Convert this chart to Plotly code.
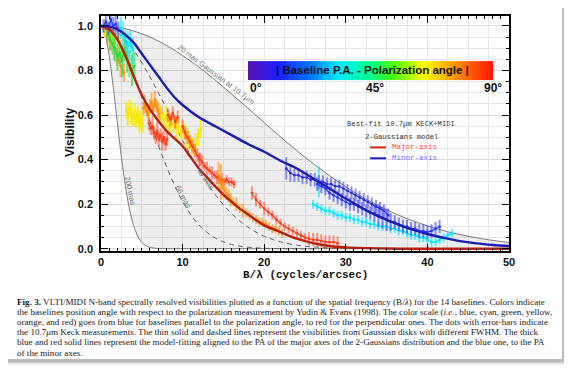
import plotly.graph_objects as go

# ---------------- data ----------------
# thin Gaussian-disc model curves (FWHM 20, 45, 66, 200 mas)
g20_x = [0, 2.5, 5, 7.5, 10, 12.5, 15, 17.5, 20, 22.5, 25, 27.5, 30, 32.5, 35, 37.5, 40, 42.5, 45, 47.5, 50]
g20_v = [1.0, 0.991, 0.965, 0.923, 0.867, 0.801, 0.726, 0.647, 0.566, 0.486, 0.411, 0.341, 0.278, 0.222,
         0.175, 0.135, 0.103, 0.076, 0.056, 0.040, 0.028]
g200_x = [0, 0.5, 1, 1.5, 2, 2.5, 3, 3.5, 4, 4.5, 5, 5.5, 6, 7, 8, 10, 20, 30, 40, 50]
g200_v = [1.0, 0.965, 0.867, 0.726, 0.566, 0.411, 0.278, 0.175, 0.103, 0.056, 0.028, 0.013, 0.006, 0.001,
          0.0, 0.0, 0.0, 0.0, 0.0, 0.0]
g66_x = [0, 2, 4, 6, 8, 10, 12, 14, 16, 18, 20, 22, 24, 26]
g66_v = [1.0, 0.940, 0.780, 0.572, 0.371, 0.212, 0.107, 0.048, 0.019, 0.007, 0.002, 0.0006, 0.0001, 0.0]
g45_x = [0, 2, 4, 6, 8, 10, 12, 14, 16, 18, 20, 22, 24, 26, 28, 30]
g45_v = [1.0, 0.972, 0.891, 0.771, 0.631, 0.486, 0.354, 0.243, 0.158, 0.097, 0.056, 0.031, 0.016, 0.008,
         0.0035, 0.0015]

# thick best-fit 2-Gaussian model curves
major_x = [0, 1, 2, 3, 4, 5, 6, 7, 8, 9, 10, 11, 12, 13, 14, 15, 16, 17, 18, 19, 20, 22, 24, 26, 28, 30,
           35, 40, 45, 50]
major_v = [1.0, 0.985, 0.94, 0.865, 0.775, 0.69, 0.625, 0.575, 0.53, 0.495, 0.46, 0.41, 0.36, 0.32, 0.28,
           0.243, 0.21, 0.18, 0.155, 0.128, 0.105, 0.075, 0.045, 0.025, 0.012, 0.006, 0.001, 0.0, 0.0, 0.0]
minor_x = [0, 1, 2, 3, 4, 5, 6, 7, 8, 9, 10, 12, 14, 16, 18, 20, 22, 24, 26, 28, 30, 32, 34, 36, 38, 40,
           42, 44, 46, 48, 50]
minor_v = [1.0, 0.997, 0.985, 0.96, 0.925, 0.875, 0.825, 0.775, 0.725, 0.68, 0.645, 0.59, 0.55, 0.51, 0.47,
           0.435, 0.395, 0.36, 0.315, 0.27, 0.225, 0.183, 0.145, 0.115, 0.088, 0.066, 0.049, 0.034, 0.024,
           0.017, 0.012]

# measured visibilities (x: B/lambda, v: visibility, e: error)
blue0_x = [0.3, 0.6, 0.9, 1.2, 1.5, 1.8, 2.1]
blue0_v = [1.0, 1.02, 0.99, 1.03, 1.0, 1.01, 0.98]
blue0_e = [0.03, 0.04, 0.03, 0.05, 0.04, 0.05, 0.04]
green0_x = [0.8, 1.1, 1.4, 1.7, 2.0, 2.3, 2.6, 2.9, 3.2, 3.5, 3.8, 4.1]
green0_v = [0.97, 0.94, 0.92, 0.9, 0.86, 0.88, 0.84, 0.9, 0.86, 0.83, 0.8, 0.82]
green0_e = [0.04, 0.05, 0.05, 0.06, 0.06, 0.05, 0.07, 0.06, 0.07, 0.06, 0.07, 0.06]
cyan0_x = [2.4, 2.7, 3.0, 3.3, 3.6, 3.9]
cyan0_v = [0.99, 0.96, 0.93, 0.91, 0.93, 0.89]
cyan0_e = [0.05, 0.06, 0.05, 0.06, 0.05, 0.06]
yellow0_x = [0.5, 0.9, 1.3, 1.7, 2.1, 2.5]
yellow0_v = [0.99, 0.97, 0.96, 0.93, 0.95, 0.91]
yellow0_e = [0.04, 0.03, 0.05, 0.04, 0.05, 0.04]
orange0_x = [0.4, 0.8, 1.2, 1.6, 2.0, 2.4, 2.8]
orange0_v = [0.98, 0.95, 0.93, 0.9, 0.86, 0.82, 0.79]
orange0_e = [0.03, 0.04, 0.04, 0.05, 0.04, 0.05, 0.04]
yellowA_x = [3.1, 3.3, 3.5, 3.7, 3.9, 4.1, 4.3, 4.5, 4.7, 4.9, 5.1]
yellowA_v = [0.62, 0.6, 0.63, 0.61, 0.59, 0.6, 0.58, 0.6, 0.57, 0.58, 0.56]
yellowA_e = [0.04, 0.05, 0.04, 0.05, 0.04, 0.05, 0.04, 0.04, 0.05, 0.04, 0.04]
orangeB_x = [5.2, 5.4, 5.6, 5.8, 6.0, 6.2, 6.4, 6.6, 6.8, 7.0, 7.2, 7.4]
orangeB_v = [0.63, 0.65, 0.62, 0.6, 0.64, 0.66, 0.62, 0.67, 0.64, 0.62, 0.6, 0.61]
orangeB_e = [0.03, 0.04, 0.03, 0.04, 0.03, 0.04, 0.03, 0.04, 0.03, 0.04, 0.03, 0.03]
redC_x = [5.9, 6.1, 6.3, 6.5, 6.7, 6.9, 7.1, 7.3, 7.5, 7.7, 7.9, 8.1]
redC_v = [0.56, 0.54, 0.55, 0.52, 0.5, 0.53, 0.49, 0.51, 0.48, 0.5, 0.47, 0.49]
redC_e = [0.03, 0.03, 0.04, 0.03, 0.03, 0.04, 0.03, 0.03, 0.04, 0.03, 0.03, 0.03]
yellowD_x = [7.4, 7.7, 8.0, 8.3, 8.6, 8.9, 9.2, 9.5, 9.8, 10.1, 10.4, 10.7, 11.0, 11.3, 11.6, 11.9, 12.2]
yellowD_v = [0.6, 0.58, 0.59, 0.57, 0.55, 0.56, 0.54, 0.55, 0.52, 0.53, 0.5, 0.49, 0.47, 0.46, 0.47, 0.5, 0.54]
yellowD_e = [0.04, 0.03, 0.05, 0.04, 0.03, 0.04, 0.05, 0.04, 0.03, 0.04, 0.05, 0.04, 0.03, 0.04, 0.05, 0.04, 0.04]
redD_x = [8.2, 8.5, 8.8, 9.1, 9.4]
redD_v = [0.6, 0.58, 0.61, 0.57, 0.59]
redD_e = [0.03, 0.03, 0.03, 0.03, 0.03]
redE_x = [10.0, 10.3, 10.6, 10.9, 11.2, 11.5, 11.8, 12.1]
redE_v = [0.55, 0.52, 0.5, 0.48, 0.46, 0.44, 0.42, 0.4]
redE_e = [0.03, 0.03, 0.03, 0.03, 0.03, 0.03, 0.03, 0.03]
redF_x = [12.1, 12.4, 12.7, 13.0, 13.3, 13.6, 13.9, 14.2, 14.5, 14.8, 15.1, 15.4, 15.7, 16.0, 16.3]
redF_v = [0.4, 0.39, 0.37, 0.36, 0.35, 0.34, 0.33, 0.32, 0.31, 0.31, 0.3, 0.31, 0.3, 0.3, 0.29]
redF_e = [0.03, 0.03, 0.02, 0.03, 0.02, 0.03, 0.02, 0.03, 0.02, 0.03, 0.02, 0.02, 0.02, 0.02, 0.02]
orangeG_x = [14.4, 14.7, 15.0, 15.3, 15.6, 15.9, 16.2, 16.6, 17.0, 17.4, 17.8, 18.2, 18.6, 19.0, 19.4,
             19.8, 20.2, 20.6, 21.0, 21.4, 21.8, 22.2]
orangeG_v = [0.33, 0.3, 0.27, 0.25, 0.24, 0.22, 0.21, 0.2, 0.18, 0.17, 0.16, 0.15, 0.14, 0.13, 0.12, 0.12,
             0.11, 0.1, 0.09, 0.09, 0.08, 0.07]
orangeG_e = [0.06, 0.08, 0.04, 0.03, 0.03, 0.03, 0.02, 0.03, 0.02, 0.03, 0.02, 0.02, 0.02, 0.02, 0.02, 0.02,
             0.02, 0.02, 0.02, 0.02, 0.02, 0.02]
redH_x = [18.5, 19, 19.5, 20, 20.5, 21, 21.5, 22, 22.5, 23, 23.5, 24, 24.5, 25, 25.5, 26, 26.5, 27, 27.5,
          28, 28.5, 29]
redH_v = [0.25, 0.22, 0.2, 0.18, 0.165, 0.15, 0.13, 0.115, 0.1, 0.09, 0.08, 0.07, 0.06, 0.05, 0.045, 0.04,
          0.04, 0.035, 0.03, 0.03, 0.03, 0.025]
redH_e = [0.03, 0.03, 0.02, 0.03, 0.02, 0.02, 0.02, 0.02, 0.02, 0.02, 0.02, 0.02, 0.02, 0.02, 0.03, 0.03,
          0.03, 0.03, 0.03, 0.03, 0.03, 0.03]
blueI_x = [22.7, 23.2, 23.7, 24.2, 24.7, 25.2, 25.7, 26.2, 26.7, 27.2, 27.7, 28.2, 28.7, 29.2, 29.7, 30.2,
           30.7, 31.2, 31.7, 32.2, 32.7, 33.2, 33.7, 34.2, 34.7, 35.2]
blueI_v = [0.36, 0.34, 0.33, 0.33, 0.32, 0.32, 0.31, 0.31, 0.3, 0.3, 0.29, 0.29, 0.28, 0.28, 0.27, 0.26,
           0.25, 0.24, 0.23, 0.22, 0.21, 0.2, 0.19, 0.18, 0.17, 0.15]
blueI_e = [0.05, 0.04, 0.03, 0.03, 0.03, 0.03, 0.03, 0.03, 0.03, 0.03, 0.03, 0.03, 0.03, 0.03, 0.03, 0.03,
           0.03, 0.03, 0.03, 0.03, 0.03, 0.03, 0.03, 0.03, 0.03, 0.03]
blueJ_x = [26.5, 27, 27.5, 28, 28.5, 29, 29.5, 30, 30.5, 31, 31.5, 32, 32.5, 33, 33.5, 34, 34.5, 35, 35.5,
           36, 36.5, 37, 37.5, 38, 38.5, 39, 39.5, 40, 40.5, 41, 41.5]
blueJ_v = [0.29, 0.28, 0.27, 0.25, 0.24, 0.23, 0.22, 0.21, 0.2, 0.2, 0.19, 0.18, 0.17, 0.16, 0.16, 0.15,
           0.14, 0.13, 0.12, 0.12, 0.11, 0.1, 0.1, 0.09, 0.09, 0.08, 0.08, 0.075, 0.08, 0.09, 0.1]
blueJ_e = [0.03, 0.03, 0.03, 0.03, 0.03, 0.03, 0.03, 0.03, 0.03, 0.03, 0.03, 0.03, 0.03, 0.03, 0.04, 0.05,
           0.05, 0.05, 0.04, 0.03, 0.03, 0.03, 0.03, 0.03, 0.03, 0.03, 0.03, 0.03, 0.03, 0.03, 0.03]
cyanK_x = [26, 26.5, 27, 27.5, 28, 28.5, 29, 29.5, 30, 30.5, 31, 31.5, 32, 32.5, 33, 33.5, 34, 34.5, 35,
           35.5, 36, 36.5, 37, 37.5, 38, 38.5, 39, 39.5, 40, 40.5, 41, 41.5, 42, 42.5, 43]
cyanK_v = [0.2, 0.19, 0.18, 0.17, 0.17, 0.16, 0.15, 0.15, 0.14, 0.14, 0.13, 0.13, 0.12, 0.12, 0.11, 0.11,
           0.1, 0.1, 0.1, 0.09, 0.09, 0.08, 0.08, 0.07, 0.06, 0.06, 0.05, 0.05, 0.04, 0.03, 0.03, 0.04,
           0.05, 0.06, 0.07]
cyanK_e = [0.02] * len(cyanK_x)
cyanS_x = [26.7]
cyanS_v = [0.3]
cyanS_e = [0.07]

# colour bar angles (degrees)
pa_angles = list(range(0, 91))
pa_ticks = ["0°", "45°", "90°"]

# ---------------- geometry ----------------
# the page body adds an 8px margin, so the figure is drawn 8px smaller/shifted
OFF = 8
W, H = 572 - 2 * OFF, 373 - 2 * OFF
# plot-area edges in window pixels
PL, PR, PT, PB = 101, 509, 14, 251
L, R, T, B = PL - OFF, PR - OFF, PT - OFF, PB - OFF


def px(p):  # window pixel x -> paper
    return ((p - OFF) - L) / (R - L)


def py(p):  # window pixel y -> paper
    return (B - (p - OFF)) / (B - T)


fig = go.Figure()

GREY = "#7a7a7a"
# shaded region between 200 mas and 20 mas Gaussians
fig.add_trace(go.Scatter(x=g200_x, y=g200_v, mode="lines", line=dict(color=GREY, width=1, shape="spline",
                         smoothing=0.6), hoverinfo="skip", showlegend=False))
fig.add_trace(go.Scatter(x=g20_x, y=g20_v, mode="lines", line=dict(color=GREY, width=1, shape="spline"),
                         fill="tonexty", fillcolor="rgba(120,120,120,0.13)", hoverinfo="skip",
                         showlegend=False))
fig.add_trace(go.Scatter(x=g66_x, y=g66_v, mode="lines", line=dict(color="#666666", width=1, dash="5px,4px",
                         shape="spline"), showlegend=False))
fig.add_trace(go.Scatter(x=g45_x, y=g45_v, mode="lines", line=dict(color="#666666", width=1, dash="5px,4px",
                         shape="spline"), showlegend=False))

COL = {
    "blue": ("#2636ff", "rgba(50,70,255,0.6)"),
    "navy": ("#2a2ae0", "rgba(60,60,240,0.55)"),
    "cyan": ("#00e4ff", "rgba(0,230,255,0.6)"),
    "green": ("#22d83a", "rgba(40,220,60,0.65)"),
    "yellow": ("#f5e800", "rgba(248,235,0,0.8)"),
    "orange": ("#ff8c00", "rgba(255,140,0,0.6)"),
    "red": ("#ff3a12", "rgba(255,70,40,0.55)"),
}

series = [
    (orangeB_x, orangeB_v, orangeB_e, "orange"),
    (redC_x, redC_v, redC_e, "red"),
    (yellowA_x, yellowA_v, yellowA_e, "yellow"),
    (yellowD_x, yellowD_v, yellowD_e, "yellow"),
    (redD_x, redD_v, redD_e, "red"),
    (redE_x, redE_v, redE_e, "red"),
    (redF_x, redF_v, redF_e, "red"),
    (orangeG_x, orangeG_v, orangeG_e, "orange"),
    (redH_x, redH_v, redH_e, "red"),
    (cyanK_x, cyanK_v, cyanK_e, "cyan"),
    (cyanS_x, cyanS_v, cyanS_e, "cyan"),
    (blueJ_x, blueJ_v, blueJ_e, "blue"),
    (blueI_x, blueI_v, blueI_e, "navy"),
    (orange0_x, orange0_v, orange0_e, "orange"),
    (yellow0_x, yellow0_v, yellow0_e, "yellow"),
    (green0_x, green0_v, green0_e, "green"),
    (cyan0_x, cyan0_v, cyan0_e, "cyan"),
    (blue0_x, blue0_v, blue0_e, "blue"),
]
for xs, vs, es, c in series:
    lc, ec = COL[c]
    fig.add_trace(go.Scatter(
        x=xs, y=vs, mode="lines+markers",
        line=dict(color=lc, width=1.2), marker=dict(color=lc, size=2.5),
        error_y=dict(type="data", array=es, color=ec, thickness=2, width=0),
        showlegend=False))

# thick model curves
fig.add_trace(go.Scatter(x=major_x, y=major_v, mode="lines",
                         line=dict(color="#b8200c", width=2.4, shape="spline"), showlegend=False))
fig.add_trace(go.Scatter(x=minor_x, y=minor_v, mode="lines",
                         line=dict(color="#1c1cb0", width=2.4, shape="spline"), showlegend=False))

# dummy trace for the finer vertical grid axis
fig.add_trace(go.Scatter(x=[0, 50], y=[-5, -5], xaxis="x3", mode="lines", line=dict(width=0),
                         hoverinfo="skip", showlegend=False))

# colour bar (heat-map strip)
rainbow = [[0.0, "#5212b4"], [0.12, "#1e1eff"], [0.25, "#0074ff"], [0.37, "#00eeff"],
           [0.5, "#00ff8c"], [0.6, "#50ff00"], [0.72, "#ffff00"], [0.85, "#ff9000"], [1.0, "#ff1800"]]
fig.add_trace(go.Heatmap(z=[pa_angles], x=pa_angles, y=[0], colorscale=rainbow, showscale=False,
                         xaxis="x2", yaxis="y2", hoverinfo="skip"))

TICKFONT = dict(family="Liberation Sans", size=11, color="#111111", weight="bold")
fig.update_layout(
    width=W, height=H,
    margin=dict(l=L, r=W - R, t=T, b=H - B, pad=0),
    paper_bgcolor="white", plot_bgcolor="white",
    xaxis=dict(range=[0, 50], dtick=10, tick0=0, showgrid=True, gridcolor="#dcdcdc", gridwidth=1,
               zeroline=False, showline=True, linecolor="black", linewidth=1.5, mirror="ticks",
               ticks="inside", ticklen=7, tickwidth=1.3, tickcolor="black", tickfont=TICKFONT,
               minor=dict(dtick=1, ticks="inside", ticklen=3.5, tickcolor="black", showgrid=False)),
    yaxis=dict(range=[-0.0102, 1.0445], dtick=0.2, tick0=0, tickformat=".1f", showgrid=True,
               gridcolor="#dcdcdc", zeroline=False, showline=True, linecolor="black", linewidth=1.5,
               mirror="ticks", ticks="inside", ticklen=7, tickwidth=1.3, tickcolor="black",
               tickfont=TICKFONT, ticklabelstandoff=4,
               minor=dict(dtick=0.05, ticks="inside", ticklen=3.5, tickcolor="black", showgrid=True,
                          gridcolor="#e6e6e6")),
    xaxis3=dict(overlaying="x", range=[0, 50], dtick=2.5, tick0=0, showgrid=True, gridcolor="#e6e6e6",
                showticklabels=False, ticks="", showline=False, zeroline=False),
    xaxis2=dict(domain=[px(248), px(493)], range=[-0.5, 90.5], visible=False, anchor="y2"),
    yaxis2=dict(domain=[py(79), py(59.5)], range=[-0.5, 0.5], visible=False, anchor="x2"),
)

# page with drop shadow
shapes = []
for off, a in [(6, 0.05), (5, 0.06), (4, 0.08), (3, 0.1)]:
    shapes.append(dict(type="rect", xref="paper", yref="paper", layer="below",
                       x0=px(0 + off), x1=px(562 + off), y0=py(360 + off), y1=py(-10),
                       fillcolor=f"rgba(0,0,0,{a})", line=dict(width=0)))
shapes.append(dict(type="rect", xref="paper", yref="paper", layer="below",
                   x0=px(-5), x1=px(562), y0=py(360), y1=py(-10), fillcolor="white", line=dict(width=0)))
# legend line samples
shapes.append(dict(type="line", xref="paper", yref="paper", x0=px(370), x1=px(386), y0=py(146.5),
                   y1=py(146.5), line=dict(color="#d42a12", width=2)))
shapes.append(dict(type="line", xref="paper", yref="paper", x0=px(370), x1=px(386), y0=py(157.5),
                   y1=py(157.5), line=dict(color="#2222c0", width=2)))
fig.update_layout(shapes=shapes)

ann = []


def add_text(text, x, y, size, color="#111111", family="Liberation Sans", xanchor="center",
             yanchor="middle", angle=0, weight="normal"):
    ann.append(dict(text=text, x=px(x), y=py(y), xref="paper", yref="paper", showarrow=False,
                    xanchor=xanchor, yanchor=yanchor, textangle=angle,
                    font=dict(family=family, size=size, color=color, weight=weight)))


add_text("Visibility", 70, 132, 12, angle=-90, weight="bold")
add_text("B/λ (cycles/arcsec)", 305, 275, 11, family="Liberation Mono", weight="bold")
add_text("| Baseline P.A. - Polarization angle |", 372, 68.5, 11.5, color="#101010", weight="bold")
add_text(pa_ticks[0], 248, 87, 12, xanchor="left", weight="bold")
add_text(pa_ticks[1], 375, 87, 12, weight="bold")
add_text(pa_ticks[2], 493, 87, 12, weight="bold")
add_text("Best-fit 10.7μm KECK+MIDI", 401, 123, 7.2, color="#333333", family="Liberation Mono")
add_text("2-Gaussians model", 401, 136, 7.2, color="#333333", family="Liberation Mono")
add_text("Major-axis", 390, 146.5, 7.5, color="#ff4a2a", family="Liberation Mono", xanchor="left")
add_text("Minor-axis", 390, 157.5, 7.5, color="#7a6aff", family="Liberation Mono", xanchor="left")
add_text("20 mas Gaussian at 10.7μm", 216, 73, 7.5, color="#777777", angle=37)
add_text("200 mas", 130, 190, 7.5, color="#777777", angle=78)
add_text("66 mas", 183, 196, 7.5, color="#777777", angle=62)
add_text("45 mas", 205, 178, 7.5, color="#777777", angle=55)

caption = [
    "<b>Fig. 3.</b> VLTI/MIDI N-band spectrally resolved visibilities plotted as a function of the spatial "
    "frequency (B/<i>λ</i>) for the 14 baselines. Colors indicate",
    "the baselines position angle with respect to the polarization measurement by Yudin &amp; Evans (1998). "
    "The color scale (<i>i.e.</i>, blue, cyan, green, yellow,",
    "orange, and red) goes from blue for baselines parallel to the polarization angle, to red for the "
    "perpendicular ones. The dots with error-bars indicate",
    "the 10.7<i>μ</i>m Keck measurements. The thin solid and dashed lines represent the visibilities from "
    "Gaussian disks with different FWHM. The thick",
    "blue and red solid lines represent the model-fitting aligned to the PA of the major axes of the "
    "2-Gaussians distribution and the blue one, to the PA",
    "of the minor axes.",
]
for i, line in enumerate(caption):
    add_text(line, 15, 302 + i * 10.3, 9.1, color="#1a1a1a", family="Liberation Serif", xanchor="left")

fig.update_layout(annotations=ann)
fig.write_html("out.html")
